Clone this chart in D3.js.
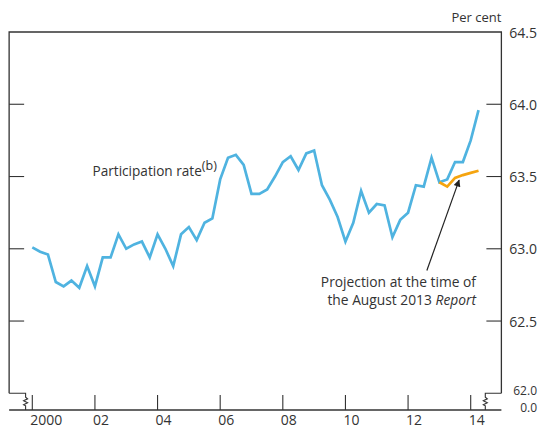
<!DOCTYPE html>
<html>
<head>
<meta charset="utf-8">
<script src="https://cdn.jsdelivr.net/npm/d3@7"></script>
<style>
  html, body { margin: 0; padding: 0; background: #fff; }
  svg { display: block; font-family: "Open Sans", "Noto Sans", sans-serif; }
  text { fill: #333; }
</style>
</head>
<body>
<svg id="chart" width="538" height="428"></svg>
<script>
// Quarterly participation rate, 2000 Q1 to 2014 Q2 (per cent)
const firstYear = 2000;
const participation = [
  63.01, 62.98, 62.96, 62.77, 62.74, 62.78, 62.73, 62.88,
  62.74, 62.94, 62.94, 63.10, 63.00, 63.03, 63.05, 62.94,
  63.10, 63.00, 62.88, 63.10, 63.15, 63.06, 63.18, 63.21,
  63.48, 63.63, 63.65, 63.58, 63.38, 63.38, 63.41, 63.50,
  63.60, 63.64, 63.545, 63.66, 63.68, 63.44, 63.34, 63.22,
  63.05, 63.18, 63.40, 63.25, 63.31, 63.30, 63.08, 63.20,
  63.25, 63.44, 63.43, 63.63, 63.46, 63.48, 63.60, 63.60,
  63.75, 63.96
];
// Projection at the time of the August 2013 Report, from 2013 Q1
const projectionStart = 2013;
const projection = [63.46, 63.43, 63.49, 63.51, 63.525, 63.54];

const xTickYears = [2000, 2002, 2004, 2006, 2008, 2010, 2012, 2014];
const xTickLabels = ["2000", "02", "04", "06", "08", "10", "12", "14"];
const yTicks = [62.0, 62.5, 63.0, 63.5, 64.0, 64.5];
const yInnerTicks = [62.5, 63.0, 63.5, 64.0];

const svg = d3.select("#chart");

const x = d3.scaleLinear().domain([2000, 2014]).range([32.3, 470.7]);
const y = d3.scaleLinear().domain([62, 64.5]).range([393.3, 32]);

const frameLeft = x(1999.26), frameRight = x(2014.98);
const frameTop = y(64.5), frameBottom = y(62);
const baseY = 410;
const axisColor = "#333";

// Frame (top, left and right sides)
const frame = d3.path();
frame.moveTo(frameLeft, frameBottom);
frame.lineTo(frameLeft, frameTop);
frame.lineTo(frameRight, frameTop);
frame.lineTo(frameRight, frameBottom);
svg.append("path").attr("d", frame.toString())
  .attr("fill", "none").attr("stroke", axisColor).attr("stroke-width", 1.3);

// Axis-break connectors down to the zero baseline
function breakPath(xEdge, xBreak) {
  const p = d3.path();
  p.moveTo(xEdge, frameBottom);
  p.lineTo(xBreak, frameBottom);
  p.lineTo(xBreak, frameBottom + 4);
  const zz = [[xBreak + 2, frameBottom + 5.5], [xBreak - 2, frameBottom + 7.5],
              [xBreak + 2, frameBottom + 9.5], [xBreak - 2, frameBottom + 11.5],
              [xBreak, frameBottom + 12.5]];
  zz.forEach(([a, b]) => p.lineTo(a, b));
  p.lineTo(xBreak, baseY);
  return p.toString();
}
svg.append("path").attr("d", breakPath(frameLeft, 25.6))
  .attr("fill", "none").attr("stroke", axisColor).attr("stroke-width", 1.1);
svg.append("path").attr("d", breakPath(frameRight, 485.3))
  .attr("fill", "none").attr("stroke", axisColor).attr("stroke-width", 1.1);

// Baseline and x ticks
svg.append("line").attr("x1", frameLeft).attr("x2", frameRight)
  .attr("y1", baseY).attr("y2", baseY)
  .attr("stroke", axisColor).attr("stroke-width", 1.3);

svg.selectAll(".xtick").data(xTickYears).join("line")
  .attr("class", "xtick")
  .attr("x1", d => x(d)).attr("x2", d => x(d))
  .attr("y1", baseY - 15).attr("y2", baseY)
  .attr("stroke", axisColor).attr("stroke-width", 1.1);

svg.selectAll(".xlab").data(xTickYears).join("text")
  .attr("class", "xlab")
  .attr("x", d => x(d) - 2).attr("y", 425)
  .attr("font-size", 14)
  .text((d, i) => xTickLabels[i]);

// y ticks on both sides (pointing inward)
svg.selectAll(".ytickL").data(yInnerTicks).join("line")
  .attr("class", "ytickL")
  .attr("x1", frameLeft).attr("x2", frameLeft + 15)
  .attr("y1", d => y(d)).attr("y2", d => y(d))
  .attr("stroke", axisColor).attr("stroke-width", 1.1);
svg.selectAll(".ytickR").data(yInnerTicks).join("line")
  .attr("class", "ytickR")
  .attr("x1", frameRight - 15).attr("x2", frameRight)
  .attr("y1", d => y(d)).attr("y2", d => y(d))
  .attr("stroke", axisColor).attr("stroke-width", 1.1);

// The lowest label sits just above the zero label, so both are set a little smaller
svg.selectAll(".ylab").data(yTicks).join("text")
  .attr("class", "ylab")
  .attr("x", 537).attr("y", d => y(d) + (d === 62 ? -3 : 0))
  .attr("text-anchor", "end").attr("dominant-baseline", "central")
  .attr("font-size", d => d === 62 ? 12 : 14)
  .text(d => d3.format(".1f")(d));

svg.append("text").attr("x", 537).attr("y", 407)
  .attr("text-anchor", "end").attr("dominant-baseline", "central")
  .attr("font-size", 12).text("0.0");

svg.append("text").attr("x", frameRight).attr("y", 22)
  .attr("text-anchor", "end").attr("font-size", 13).text("Per cent");

// Series lines
const line = d3.line().x(d => x(d.t)).y(d => y(d.v));
const partData = participation.map((v, i) => ({ t: firstYear + i / 4, v }));
const projData = projection.map((v, i) => ({ t: projectionStart + i / 4, v }));

svg.append("path").datum(partData).attr("d", line)
  .attr("fill", "none").attr("stroke", "#4fb3e0")
  .attr("stroke-width", 2.7).attr("stroke-linejoin", "miter");

svg.append("path").datum(projData).attr("d", line)
  .attr("fill", "none").attr("stroke", "#f5a40f")
  .attr("stroke-width", 2.7).attr("stroke-linejoin", "miter");

// Labels
const lab = svg.append("text").attr("x", 92.5).attr("y", 176)
  .attr("font-size", 13.6);
lab.append("tspan").text("Participation rate");
lab.append("tspan").attr("font-size", 12.5).attr("dy", -6).text("(b)");

const ann = svg.append("text").attr("text-anchor", "end").attr("font-size", 13.8);
ann.append("tspan").attr("x", 476).attr("y", 287).text("Projection at the time of");
const l2 = ann.append("tspan").attr("x", 476).attr("y", 305);
l2.append("tspan").text("the August 2013 ");
l2.append("tspan").attr("font-style", "italic").text("Report");

// Arrow pointing at the projection
svg.append("defs").append("marker")
  .attr("id", "arrowhead").attr("viewBox", "0 0 10 10")
  .attr("refX", 9).attr("refY", 5)
  .attr("markerWidth", 9).attr("markerHeight", 7)
  .attr("markerUnits", "userSpaceOnUse")
  .attr("orient", "auto")
  .append("path").attr("d", "M0,0 L10,5 L0,10 Z").attr("fill", "#222");

svg.append("line")
  .attr("x1", x(2012.6)).attr("y1", y(62.85))
  .attr("x2", x(2013.63)).attr("y2", y(63.475))
  .attr("stroke", "#222").attr("stroke-width", 1.2)
  .attr("marker-end", "url(#arrowhead)");
</script>
</body>
</html>
